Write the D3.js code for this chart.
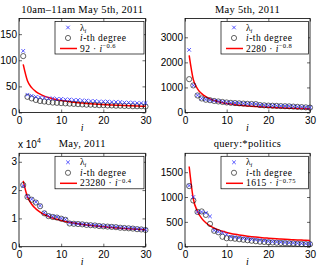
<!DOCTYPE html>
<html><head><meta charset="utf-8">
<script src="https://cdn.jsdelivr.net/npm/d3@7"></script>
<style>
html,body{margin:0;padding:0;background:#fff;}
svg{display:block;}
.tick text{font-family:"Liberation Sans",Arial,sans-serif;font-size:10px;fill:#000;}
.serif{font-family:"Liberation Serif","DejaVu Serif",serif;}
</style></head><body>
<svg id="c" width="319" height="270"></svg>
<script>
const idx = d3.range(1, 31);

const titles = ["10am\u201311am May 5th, 2011", "May 5th, 2011", "May, 2011", "query:*politics"];

const lambda1 = [118, 34, 32, 30, 29, 28, 27, 27, 26, 26, 25, 25, 24, 24, 23, 23, 22, 22, 21, 21, 21, 20, 20, 20, 19, 19, 19, 18, 18, 18];
const degree1 = [108, 30, 27, 24, 22, 21, 20, 19, 18.5, 18, 17.5, 17, 16.5, 16, 15.5, 15, 15, 14.5, 14, 14, 13.5, 13.5, 13, 13, 12.5, 12.5, 12, 12, 12, 11.5];

const lambda2 = [2500, 1080, 690, 560, 520, 490, 470, 450, 430, 400, 390, 380, 370, 360, 350, 345, 340, 300, 290, 280, 275, 270, 260, 255, 250, 240, 230, 220, 210, 200];
const degree2 = [1330, 1080, 680, 560, 510, 490, 460, 440, 420, 400, 385, 375, 365, 355, 345, 340, 335, 295, 285, 275, 270, 265, 255, 250, 245, 235, 225, 215, 205, 195];

const lambda3 = [21500, 17800, 16800, 15800, 14500, 12000, 11000, 10700, 10500, 10000, 9600, 8400, 8200, 8100, 8000, 7800, 7700, 7600, 7400, 7300, 7200, 7100, 7000, 6800, 6700, 6600, 6500, 6300, 6200, 6000];
const degree3 = [21800, 17600, 16600, 15600, 14300, 11800, 10800, 10500, 10300, 9900, 9500, 8200, 8100, 8000, 7900, 7700, 7600, 7500, 7300, 7200, 7100, 7000, 6900, 6700, 6600, 6500, 6400, 6200, 6100, 5900];

const lambda4 = [1230, 1000, 700, 700, 680, 610, 330, 300, 280, 250, 200, 190, 180, 170, 160, 150, 140, 130, 120, 110, 100, 95, 90, 85, 80, 75, 70, 65, 60, 60];
const degree4 = [1220, 930, 700, 710, 640, 460, 320, 290, 200, 170, 170, 160, 150, 140, 130, 120, 110, 100, 95, 90, 85, 80, 75, 70, 68, 65, 60, 55, 52, 50];

const fitCoef = [92, 2280, 23280, 1615];
const fitExp = [-0.6, -0.8, -0.4, -0.75];
const fitLabel = ["92", "2280", "23280", "1615"];
const fitExpLabel = ["\u22120.6", "\u22120.8", "\u22120.4", "\u22120.75"];

const yMax = [180, 3750, 33000, 1880];
const yTicks = [[0, 50, 100, 150], [0, 1000, 2000, 3000], [0, 10000, 20000, 30000], [0, 500, 1000, 1500]];
const xTicks = [0, 10, 20, 30];

const lambdas = [lambda1, lambda2, lambda3, lambda4];
const degrees = [degree1, degree2, degree3, degree4];

const boxes = [
  {x0: 19, x1: 145.5, y0: 18.5, y1: 112.5},
  {x0: 185, x1: 310, y0: 18.5, y1: 112.5},
  {x0: 19, x1: 145.5, y0: 153.3, y1: 246.7},
  {x0: 185, x1: 310, y0: 153.3, y1: 246.7}
];

const svg = d3.select("#c");
const BLUE = "#2b2bff";

boxes.forEach((b, k) => {
  const g = svg.append("g");
  const x = d3.scaleLinear().domain([0, 30]).range([b.x0, b.x1]);
  const y = d3.scaleLinear().domain([0, yMax[k]]).range([b.y1, b.y0]);

  g.append("rect").attr("x", b.x0).attr("y", b.y0).attr("width", b.x1 - b.x0).attr("height", b.y1 - b.y0)
    .attr("fill", "#fff").attr("stroke", "#000").attr("stroke-width", 0.8);

  const fmt = k === 2 ? (d => d / 10000) : (d => d);
  const xa = g.append("g").attr("transform", `translate(0,${b.y1})`)
    .call(d3.axisBottom(x).tickValues(xTicks).tickSize(-3).tickPadding(6).tickFormat(d => d));
  const xa2 = g.append("g").attr("transform", `translate(0,${b.y0})`)
    .call(d3.axisTop(x).tickValues(xTicks).tickSize(-3).tickFormat(""));
  const ya = g.append("g").attr("transform", `translate(${b.x0},0)`)
    .call(d3.axisLeft(y).tickValues(yTicks[k]).tickSize(-3).tickPadding(2).tickFormat(fmt));
  const ya2 = g.append("g").attr("transform", `translate(${b.x1},0)`)
    .call(d3.axisRight(y).tickValues(yTicks[k]).tickSize(-3).tickFormat(""));
  [xa, xa2, ya, ya2].forEach(a => {
    a.select(".domain").remove();
    a.selectAll("line").attr("stroke", "#000").attr("stroke-width", 0.6);
  });
  xa.selectAll("text").attr("dy", "0.71em").attr("y", 4);
  ya.selectAll("text").attr("x", -2);

  const fit = idx.map(i => [i, fitCoef[k] * Math.pow(i, fitExp[k])]);
  g.append("path").datum(fit)
    .attr("d", d3.line().x(d => x(d[0])).y(d => y(d[1])).curve(d3.curveMonotoneX))
    .attr("fill", "none").attr("stroke", "#ff0000").attr("stroke-width", 1.5);

  g.selectAll("circle.deg").data(degrees[k]).enter().append("circle")
    .attr("cx", (d, i) => x(idx[i])).attr("cy", d => y(d)).attr("r", 2.6)
    .attr("fill", "none").attr("stroke", "#000").attr("stroke-width", 0.6);

  const s = 1.8;
  g.selectAll("path.lam").data(lambdas[k]).enter().append("path")
    .attr("d", (d, i) => {
      const cx = x(idx[i]), cy = y(d);
      return `M${cx - s},${cy - s}L${cx + s},${cy + s}M${cx - s},${cy + s}L${cx + s},${cy - s}`;
    })
    .attr("stroke", BLUE).attr("stroke-width", 0.8);

  g.append("text").attr("class", "serif").attr("x", (b.x0 + b.x1) / 2).attr("y", b.y0 - 6)
    .attr("text-anchor", "middle").attr("font-size", 10.5).attr("letter-spacing", 0.3)
    .text(titles[k]);

  g.append("text").attr("class", "serif").attr("x", (b.x0 + b.x1) / 2).attr("y", b.y1 + 18)
    .attr("text-anchor", "middle").attr("font-size", 10).attr("font-style", "italic").text("i");

  if (k === 2) {
    const t = g.append("text").attr("x", b.x0 - 1).attr("y", b.y0 - 5)
      .attr("font-family", "Liberation Sans, Arial, sans-serif").attr("font-size", 10);
    t.append("tspan").text("x 10");
    t.append("tspan").attr("dy", -5).attr("font-size", 7).text("4");
  }

  const lx0 = b.x0 + 36, lx1 = b.x1 - 1.5, ly0 = b.y0 + 3, ly1 = b.y0 + 35.5;
  const lg = g.append("g");
  lg.append("rect").attr("x", lx0).attr("y", ly0).attr("width", lx1 - lx0).attr("height", ly1 - ly0)
    .attr("fill", "#fff").attr("stroke", "#000").attr("stroke-width", 0.7);
  const mx = lx0 + 13;
  const rows = [ly0 + 6, ly0 + 16.5, ly0 + 27];
  lg.append("path")
    .attr("d", `M${mx - s},${rows[0] - s}L${mx + s},${rows[0] + s}M${mx - s},${rows[0] + s}L${mx + s},${rows[0] - s}`)
    .attr("stroke", BLUE).attr("stroke-width", 0.8);
  lg.append("circle").attr("cx", mx).attr("cy", rows[1]).attr("r", 2.6)
    .attr("fill", "none").attr("stroke", "#000").attr("stroke-width", 0.6);
  lg.append("line").attr("x1", lx0 + 5).attr("x2", lx0 + 22).attr("y1", rows[2]).attr("y2", rows[2])
    .attr("stroke", "#ff0000").attr("stroke-width", 1.5);
  const tx = lx0 + 25;
  const t1 = lg.append("text").attr("class", "serif").attr("x", tx).attr("y", rows[0] + 3).attr("font-size", 9.5);
  t1.append("tspan").text("\u03bb");
  t1.append("tspan").attr("dy", 2).attr("font-size", 6.5).attr("font-style", "italic").text("i");
  const t2 = lg.append("text").attr("class", "serif").attr("x", tx).attr("y", rows[1] + 3).attr("font-size", 9.5)
    .attr("letter-spacing", 0.5);
  t2.append("tspan").attr("font-style", "italic").text("i");
  t2.append("tspan").text("-th degree");
  const t3 = lg.append("text").attr("class", "serif").attr("x", tx).attr("y", rows[2] + 3).attr("font-size", 9.5)
    .attr("letter-spacing", 0.4);
  t3.append("tspan").text(fitLabel[k] + " \u00b7 ");
  t3.append("tspan").attr("font-style", "italic").text("i");
  t3.append("tspan").attr("dy", -3.5).attr("font-size", 6.5).text(fitExpLabel[k]);
});
</script>
</body></html>
